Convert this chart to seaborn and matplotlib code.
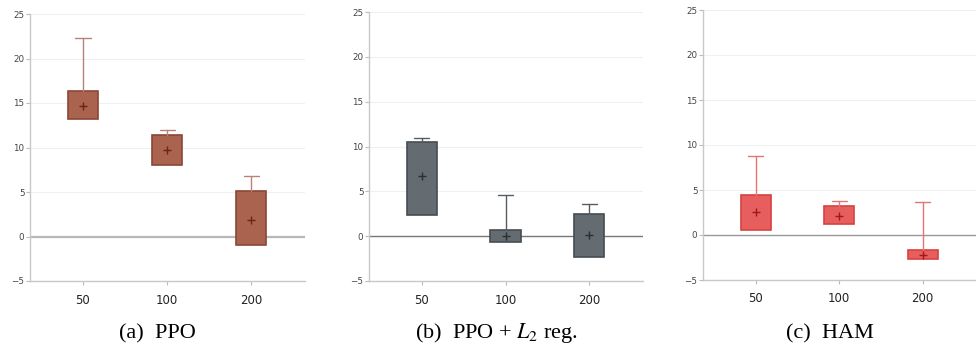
import matplotlib
matplotlib.use("Agg")
import matplotlib.pyplot as plt
import seaborn as sns
import numpy as np

categories = ["50", "100", "200"]

# PPO
ppo_q1 = [13.2, 8.0, -1.0]
ppo_q3 = [16.3, 11.4, 5.1]
ppo_max = [22.3, 12.0, 6.8]
ppo_mean = [14.7, 9.7, 1.9]

# PPO + L2 reg.
l2_q1 = [2.4, -0.6, -2.3]
l2_q3 = [10.5, 0.7, 2.5]
l2_max = [10.9, 4.6, 3.6]
l2_mean = [6.7, 0.05, 0.1]

# HAM
ham_q1 = [0.6, 1.2, -2.7]
ham_q3 = [4.5, 3.2, -1.7]
ham_max = [8.8, 3.8, 3.7]
ham_mean = [2.6, 2.1, -2.2]

captions = ["(a)  PPO", "(b)  PPO + $L_2$ reg.", "(c)  HAM"]
yticks = [-5, 0, 5, 10, 15, 20, 25]

sns.set_theme(style="white")
plt.rcParams["font.family"] = ["DejaVu Sans"]
plt.rcParams["mathtext.fontset"] = "stix"

fig = plt.figure(figsize=(9.76, 3.49), dpi=100)

panels = [
    dict(q1=ppo_q1, q3=ppo_q3, mx=ppo_max, mean=ppo_mean,
         fill="#a9634f", edge="#8a4636", whisk="#b88278", meanc="#6a2418",
         zc="#b8b8b8", zw=1.6,
         rect=[30/976, 1-281/349, 275/976, 267/349]),
    dict(q1=l2_q1, q3=l2_q3, mx=l2_max, mean=l2_mean,
         fill="#646c71", edge="#454d52", whisk="#555d62", meanc="#2a2f33",
         zc="#777777", zw=1.0,
         rect=[369/976, 1-281/349, 274/976, 269/349]),
    dict(q1=ham_q1, q3=ham_q3, mx=ham_max, mean=ham_mean,
         fill="#e65e5e", edge="#d84040", whisk="#e57575", meanc="#a01818",
         zc="#999999", zw=1.0,
         rect=[703/976, 1-280/349, 273/976, 270/349]),
]
cap_x = [157, 496, 830]

for i, p in enumerate(panels):
    ax = fig.add_axes(p["rect"])
    stats = []
    for j, c in enumerate(categories):
        stats.append(dict(med=p["mean"][j], q1=p["q1"][j], q3=p["q3"][j],
                          whislo=p["q1"][j], whishi=p["mx"][j],
                          mean=p["mean"][j], fliers=[], label=c))
    ax.axhline(0, color=p["zc"], lw=p["zw"], zorder=1)
    res = ax.bxp(stats, positions=range(len(categories)), widths=0.36,
                 patch_artist=True, showfliers=False, showmeans=False,
                 boxprops=dict(facecolor=p["fill"], edgecolor=p["edge"], linewidth=1.2),
                 whiskerprops=dict(color=p["whisk"], linewidth=1.0),
                 capprops=dict(color=p["whisk"], linewidth=1.0),
                 medianprops=dict(linewidth=0),
                 capwidths=0.18, zorder=3)
    for k, cap in enumerate(res["caps"]):
        if k % 2 == 0:
            cap.set_visible(False)
    for k, w in enumerate(res["whiskers"]):
        if k % 2 == 0:
            w.set_visible(False)
    sns.pointplot(x=categories, y=p["mean"], ax=ax, linestyle="none",
                  marker="+", markersize=6, markeredgewidth=1.0,
                  color=p["meanc"], zorder=5, errorbar=None)
    ax.set_xlim(-0.63, 2.64)
    ax.set_ylim(-5, 25)
    ax.set_yticks(yticks)
    ax.set_yticklabels([str(t).replace("-", "\u2212") for t in yticks])
    ax.set_xticks(range(len(categories)))
    ax.set_xticklabels(categories)
    ax.yaxis.grid(True, color="#f0f0f0", lw=0.8)
    ax.set_axisbelow(True)
    for s in ["top", "right"]:
        ax.spines[s].set_visible(False)
    for s in ["left", "bottom"]:
        ax.spines[s].set_color("#c8c8c8")
        ax.spines[s].set_linewidth(1.0)
    ax.tick_params(axis="y", which="both", left=True, length=3, width=0.8,
                   color="#bbbbbb", labelsize=6.3, labelcolor="#444444", pad=1)
    ax.tick_params(axis="x", bottom=True, length=3, width=0.8,
                   color="#bbbbbb", labelsize=8.5, labelcolor="#222222", pad=6)
    ax.set_xlabel("")
    ax.set_ylabel("")
    fig.text(cap_x[i]/976, 1-338/349, captions[i], ha="center", va="baseline",
             fontsize=16, family=["Liberation Serif", "DejaVu Serif"], color="black")

fig.savefig("out.png", dpi=100)
